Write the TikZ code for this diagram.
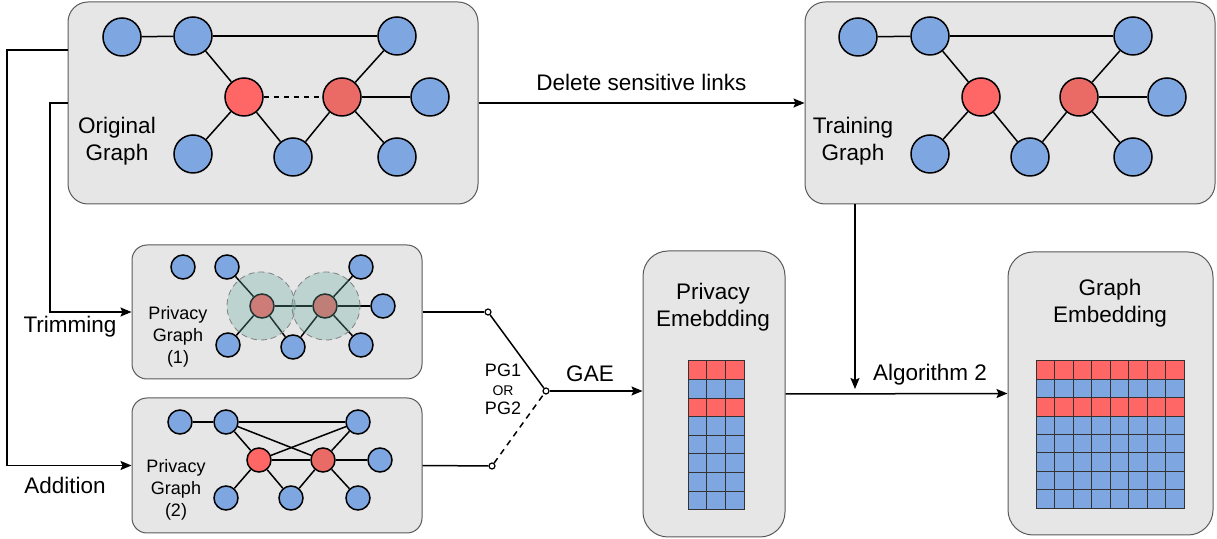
\documentclass[tikz,border=0pt]{standalone}
\usepackage{fontspec}
\setmainfont{Liberation Sans}
\usetikzlibrary{arrows.meta}
\definecolor{nodeblue}{HTML}{7EA6E0}
\definecolor{nodered}{HTML}{FF6666}
\definecolor{nodereddark}{HTML}{EA6B66}
\definecolor{panelfill}{HTML}{E6E6E6}
\definecolor{panelline}{HTML}{5A5A5A}
\definecolor{halogreen}{HTML}{67AB9F}
\definecolor{cellline}{HTML}{333333}

\begin{document}
\begin{tikzpicture}[x=0.5pt,y=-0.5pt,
  font=\fontsize{11.25}{13.5}\selectfont,
  panel/.style={draw=panelline, fill=panelfill, line width=0.5pt, inner sep=0pt},
  bn/.style={circle, draw=black, fill=nodeblue, line width=0.75pt, minimum size=19pt, inner sep=0pt},
  rn/.style={bn, fill=nodered},
  rnd/.style={bn, fill=nodereddark},
  sbn/.style={bn, minimum size=12pt},
  srn/.style={sbn, fill=nodered},
  srnd/.style={sbn, fill=nodereddark},
  edge/.style={line width=0.75pt},
  flow/.style={line width=0.75pt, -{Stealth[length=5.5pt,width=4.5pt,inset=1pt]}},
  halo/.style={circle, draw=gray, densely dashed, line width=0.4pt, fill=halogreen, fill opacity=0.32, minimum size=34pt, inner sep=0pt},
  term/.style={circle, draw=black, fill=white, line width=0.6pt, minimum size=3pt, inner sep=0pt},
  cell/.style={draw=cellline, line width=0.5pt},
  lbl/.style={align=center, inner sep=0pt},
  slbl/.style={align=center, inner sep=0pt, font=\fontsize{9}{11}\selectfont}]

\useasboundingbox (0,0) rectangle (1217,539);

% ---------- panels ----------
\node[panel, rounded corners=10pt, minimum width=205pt, minimum height=101pt] (og) at (273,103) {};
\node[panel, rounded corners=10pt, minimum width=205pt, minimum height=101pt] (tg) at (1010,103) {};
\node[panel, rounded corners=7.5pt, minimum width=145pt, minimum height=67pt] (pg1) at (277,312) {};
\node[panel, rounded corners=7.5pt, minimum width=145pt, minimum height=67.5pt] (pg2) at (277,465.5) {};
\node[panel, rounded corners=12.5pt, minimum width=71pt, minimum height=143pt] (pe) at (714,394) {};
\node[panel, rounded corners=12.5pt, minimum width=102.5pt, minimum height=141.5pt] (ge) at (1110.5,393.5) {};

% ---------- original graph ----------
\node[bn] (o1) at (122,37) {};
\node[bn] (o2) at (193,36) {};
\node[bn] (o3) at (397,36) {};
\node[rn] (or1) at (244,97) {};
\node[rnd] (or2) at (342,97) {};
\node[bn] (o4) at (430,97) {};
\node[bn] (o5) at (193,154) {};
\node[bn] (o6) at (293,157) {};
\node[bn] (o7) at (397,157) {};
\draw[edge] (o1) -- (o2);
\draw[edge] (o2) -- (o3);
\draw[edge] (o2) -- (or1);
\draw[edge, dash pattern=on 2.5pt off 2.5pt] (or1) -- (or2);
\draw[edge] (or2) -- (o3);
\draw[edge] (or2) -- (o4);
\draw[edge] (or1) -- (o5);
\draw[edge] (or1) -- (o6);
\draw[edge] (or2) -- (o6);
\draw[edge] (or2) -- (o7);
\node[lbl] (oglbl) at (117,141) {Original\\Graph};

% ---------- training graph ----------
\node[bn] (t1) at (858,37) {};
\node[bn] (t2) at (930,36) {};
\node[bn] (t3) at (1133,36) {};
\node[rn] (tr1) at (981,97) {};
\node[rnd] (tr2) at (1079,97) {};
\node[bn] (t4) at (1167,97) {};
\node[bn] (t5) at (930,154) {};
\node[bn] (t6) at (1030,157) {};
\node[bn] (t7) at (1133,157) {};
\draw[edge] (t1) -- (t2);
\draw[edge] (t2) -- (t3);
\draw[edge] (t2) -- (tr1);
\draw[edge] (tr2) -- (t3);
\draw[edge] (tr2) -- (t4);
\draw[edge] (tr1) -- (t5);
\draw[edge] (tr1) -- (t6);
\draw[edge] (tr2) -- (t6);
\draw[edge] (tr2) -- (t7);
\node[lbl] (tglbl) at (853,141) {Training\\Graph};

% ---------- privacy graph (1): trimmed ----------
\node[sbn] (p1a) at (183,267) {};
\node[sbn] (p1b) at (227,267) {};
\node[sbn] (p1c) at (361,267) {};
\node[srn] (p1r1) at (262,306) {};
\node[srnd] (p1r2) at (325,306) {};
\node[sbn] (p1d) at (383,306) {};
\node[sbn] (p1e) at (228,345) {};
\node[sbn] (p1f) at (293,347) {};
\node[sbn] (p1g) at (361,345) {};
\draw[edge] (p1b) -- (p1r1);
\draw[edge] (p1r1) -- (p1r2);
\draw[edge] (p1r2) -- (p1c);
\draw[edge] (p1r2) -- (p1d);
\draw[edge] (p1r1) -- (p1e);
\draw[edge] (p1r1) -- (p1f);
\draw[edge] (p1r2) -- (p1f);
\draw[edge] (p1r2) -- (p1g);
\node[halo] (h1) at (261,306) {};
\node[halo] (h2) at (326,306) {};
\node[slbl] (pg1lbl) at (178,337) {Privacy\\Graph\\(1)};

% ---------- privacy graph (2): added links ----------
\node[sbn] (p2a) at (180,422) {};
\node[sbn] (p2b) at (226,422) {};
\node[sbn] (p2c) at (358,422) {};
\node[srn] (p2r1) at (259,460) {};
\node[srnd] (p2r2) at (323,460) {};
\node[sbn] (p2d) at (380,460) {};
\node[sbn] (p2e) at (226,498) {};
\node[sbn] (p2f) at (291,498) {};
\node[sbn] (p2g) at (358,498) {};
\draw[edge] (p2a) -- (p2b);
\draw[edge] (p2b) -- (p2c);
\draw[edge] (p2b) -- (p2r1);
\draw[edge] (p2b) -- (p2r2);
\draw[edge] (p2c) -- (p2r1);
\draw[edge] (p2r2) -- (p2c);
\draw[edge] (p2r1) -- (p2r2);
\draw[edge] (p2r2) -- (p2d);
\draw[edge] (p2r1) -- (p2e);
\draw[edge] (p2r1) -- (p2f);
\draw[edge] (p2r2) -- (p2f);
\draw[edge] (p2r2) -- (p2g);
\node[slbl] (pg2lbl) at (176,490) {Privacy\\Graph\\(2)};

% ---------- embedding matrices ----------
\foreach \r/\col in {0/nodered,1/nodeblue,2/nodered,3/nodeblue,4/nodeblue,5/nodeblue,6/nodeblue,7/nodeblue}{
  \foreach \c in {0,1,2}{
    \draw[cell, fill=\col] ({688+\c*18.67},{361+\r*18.6}) rectangle ++(18.67,18.6);
  }
  \foreach \c in {0,...,7}{
    \draw[cell, fill=\col] ({1036+\c*18.5},{361+\r*18.4}) rectangle ++(18.5,18.4);
  }
}
\node[lbl] (pelbl) at (713,307) {Privacy\\Emebdding};
\node[lbl] (gelbl) at (1110,303) {Graph\\Embedding};

% ---------- flow connectors ----------
\draw[flow] (og.east) -- node[lbl, above=6pt] (dellbl) {Delete sensitive links} (tg.west);

\coordinate (bendA) at (7,50);
\coordinate (bendB) at (50,103);
\draw[flow] (og.west |- bendA) -- (bendA) |- (pg2.west);
\draw[flow] (og.west) -- (bendB) |- (pg1.west);
\node[lbl] (trimlbl) at (70,327) {Trimming};
\node[lbl] (addlbl) at (65,485) {Addition};

% switch between the two privacy graphs
\node[term] (s1) at (488,312) {};
\node[term] (s2) at (492,466) {};
\node[term] (sc) at (546,391) {};
\draw[edge] (pg1.east) -- (s1);
\draw[edge] (pg2.east) -- (s2);
\draw[edge] (s1) -- (sc);
\draw[edge, dash pattern=on 3pt off 2.5pt] (s2) -- (sc);
\node[align=center, inner sep=0pt, font=\fontsize{9}{10}\selectfont] (orlbl) at (503,389)
  {PG1\\[-0.5pt]{\fontsize{7}{8}\selectfont OR}\\[-0.5pt]PG2};
\draw[flow] (sc) -- (sc -| pe.west);
\node[lbl] (gaelbl) at (590,374) {GAE};

\draw[flow] (pe.east) -- (ge.west);
\node[lbl] (alglbl) at (930,375) {Algorithm 2};
\coordinate (dropTop) at (855,204);
\coordinate (dropEnd) at (855,389);
\draw[flow] (dropTop) -- (dropEnd);

\end{tikzpicture}
\end{document}
